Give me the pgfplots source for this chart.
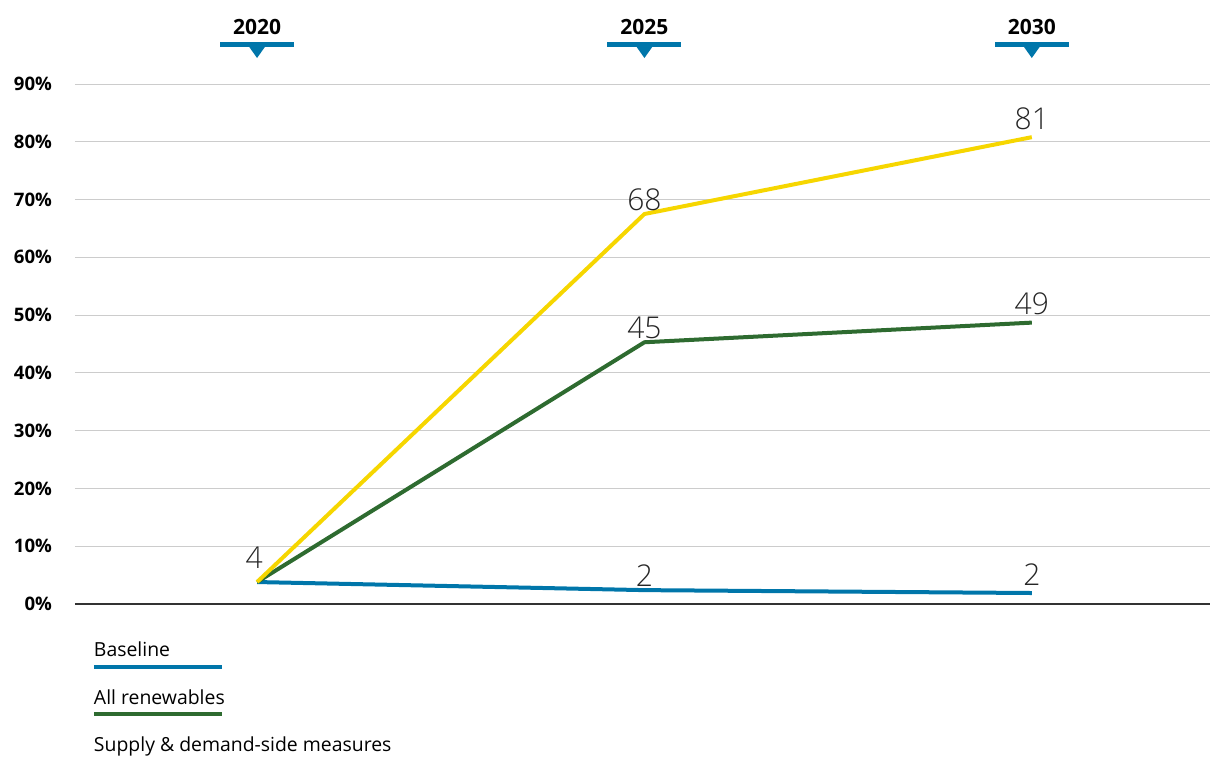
\documentclass[border=0pt]{standalone}
\usepackage{pgfplots}
\pgfplotsset{compat=1.18}
\usepackage{fontspec}
\setmainfont{Open Sans}
\newfontfamily\lightfont{Open Sans Light}

\definecolor{cBase}{RGB}{0,118,170}
\definecolor{cRen}{RGB}{46,107,48}
\definecolor{cSup}{RGB}{246,214,0}
\definecolor{cGrid}{RGB}{204,204,204}
\definecolor{cAxis}{RGB}{51,51,51}

\begin{document}
\begin{tikzpicture}
\useasboundingbox (-37.5pt,-77pt) rectangle (567.5pt,302pt);
\begin{axis}[
    at={(0,0)}, anchor=south west,
    width=567.5pt, height=260pt, scale only axis,
    xmin=2017.65, xmax=2032.3,
    ymin=0, ymax=90,
    clip=false,
    axis line style={draw=none},
    major tick length=0pt,
    /pgf/number format/assume math mode=true,
    xtick={2020,2025,2030},
    xticklabel pos=upper,
    xticklabel={\pgfmathprintnumber[1000 sep={}]{\tick}},
    x tick label style={font=\fontsize{10.5}{12}\selectfont\bfseries, anchor=base, yshift=25pt},
    ytick={10,20,...,90},
    yticklabel={\pgfmathprintnumber{\tick}\%},
    y tick label style={font=\fontsize{9.3}{11}\selectfont\bfseries, xshift=-8pt},
    ymajorgrids,
    major grid style={cGrid, line width=0.5pt},
    extra y ticks={0},
    extra y tick style={grid=major, major grid style={cAxis, line width=1pt}},
    nodes near coords style={font=\lightfont\fontsize{15}{17}\selectfont, text=black!85, anchor=south, inner sep=1.5pt},
    legend style={at={(0,0)}, anchor=north west, xshift=9.5pt, yshift=-19.5pt,
        draw=none, fill=none, inner sep=0pt, outer sep=0pt,
        row sep=14.75pt, column sep=0pt,
        font=\fontsize{9.7}{11}\selectfont,
        nodes={inner sep=0pt, text height=7pt, text depth=2pt},
        cells={anchor=west}},
    legend cell align=left,
    legend image code/.code={\draw[#1, overlay, line width=2pt] (0pt,-7.5pt) -- (64pt,-7.5pt);},
]
% year markers above the axis
\pgfplotsinvokeforeach{2020,2025,2030}{
    \fill[cBase] ([xshift=-18.5pt, yshift=18.75pt]axis cs:#1,90) rectangle ([xshift=18.5pt, yshift=21.25pt]axis cs:#1,90);
    \fill[cBase] ([xshift=-4.25pt, yshift=19pt]axis cs:#1,90) -- ([xshift=4.25pt, yshift=19pt]axis cs:#1,90) -- ([yshift=13pt]axis cs:#1,90) -- cycle;
}

\addplot[cBase, line width=2pt, line join=round]
    coordinates {(2020,3.8) (2025,2.4) (2030,1.9)};
\addlegendentry{Baseline}

\addplot[cRen, line width=2pt, line join=round]
    coordinates {(2020,3.8) (2025,45.3) (2030,48.7)};
\addlegendentry{All renewables}

\addplot[cSup, line width=2pt, line join=round]
    coordinates {(2020,3.8) (2025,67.5) (2030,80.8)};
\addlegendentry{Supply \& demand-side measures}

% value labels
\addplot[draw=none, forget plot, nodes near coords, point meta=explicit symbolic]
    coordinates {(2025,2.4) [2] (2025,45.3) [45] (2025,67.5) [68]};
\addplot[draw=none, forget plot, nodes near coords, point meta=explicit symbolic,
    nodes near coords style={yshift=2pt}]
    coordinates {(2030,1.9) [2] (2030,48.7) [49] (2030,80.8) [81]};
\addplot[draw=none, forget plot, nodes near coords, point meta=explicit symbolic,
    nodes near coords style={yshift=5pt, xshift=-1.5pt}]
    coordinates {(2020,3.8) [4]};
\end{axis}
\end{tikzpicture}
\end{document}
